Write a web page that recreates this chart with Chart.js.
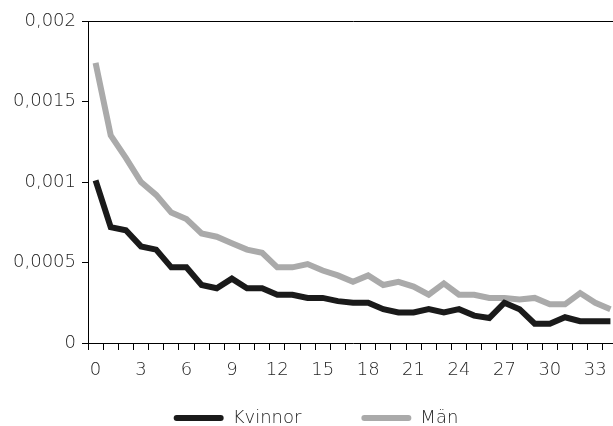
<!DOCTYPE html>
<html>
<head>
<meta charset="utf-8">
<script src="https://cdn.jsdelivr.net/npm/chart.js@4"></script>
<style>
  html, body { margin: 0; padding: 0; background: #fff; overflow: hidden; }
  #wrap { width: 613px; height: 426px; overflow: hidden; position: relative; }
  #box { width: 640px; height: 476px; position: absolute; left: 0; top: 0; }
</style>
</head>
<body>
<div id="wrap"><div id="box"><canvas id="c"></canvas></div></div>
<script>
const categories = ['0','1','2','3','4','5','6','7','8','9','10','11','12','13','14','15','16','17','18','19','20','21','22','23','24','25','26','27','28','29','30','31','32','33','34'];
const kvinnor = [0.00101,0.00072,0.00070,0.00060,0.00058,0.00047,0.00047,0.00036,0.00034,0.00040,0.00034,0.00034,0.00030,0.00030,0.00028,0.00028,0.00026,0.00025,0.00025,0.00021,0.00019,0.00019,0.00021,0.00019,0.00021,0.00017,0.000155,0.00025,0.00021,0.00012,0.00012,0.00016,0.000135,0.000135,0.000135];
const man = [0.00174,0.00129,0.00115,0.00100,0.00092,0.00081,0.00077,0.00068,0.00066,0.00062,0.00058,0.00056,0.00047,0.00047,0.00049,0.00045,0.00042,0.00038,0.00042,0.00036,0.00038,0.00035,0.00030,0.00037,0.00030,0.00030,0.00028,0.00028,0.00027,0.00028,0.00024,0.00024,0.00031,0.00025,0.00021];
const yTicks = [0, 0.0005, 0.001, 0.0015, 0.002];
const seriesNames = ['Kvinnor', 'Män'];

const FONT = { family: 'DejaVu Sans', size: 18, weight: '300' };
const TXT = '#1e1e1e';
const LEGEND_TOP = 349;

const legendShift = {
  id: 'legendShift',
  afterLayout(chart) {
    const lg = chart.legend;
    if (lg) { const h = lg.height; lg.top = LEGEND_TOP; lg.bottom = LEGEND_TOP + h; }
  }
};

new Chart(document.getElementById('c'), {
  type: 'line',
  plugins: [legendShift],
  data: {
    labels: categories,
    datasets: [
      { label: seriesNames[0], data: kvinnor, borderColor: '#1a1a1a', backgroundColor: '#1a1a1a',
        borderWidth: 6, pointRadius: 0, tension: 0, borderJoinStyle: 'miter', order: 0 },
      { label: seriesNames[1], data: man, borderColor: '#aaaaaa', backgroundColor: '#aaaaaa',
        borderWidth: 6, pointRadius: 0, tension: 0, borderJoinStyle: 'miter', order: 1 }
    ]
  },
  options: {
    responsive: true,
    maintainAspectRatio: false,
    animation: false,
    devicePixelRatio: 1,
    layout: { padding: { left: 14, right: 22, top: 21, bottom: 0 } },
    plugins: {
      tooltip: { enabled: false },
      legend: {
        position: 'bottom',
        labels: {
          font: FONT, color: TXT, boxWidth: 50, boxHeight: 6, padding: 60,
          useBorderRadius: true, borderRadius: 3,
          generateLabels: chart => Chart.defaults.plugins.legend.labels.generateLabels(chart)
            .map(l => Object.assign(l, { lineWidth: 0 }))
        }
      }
    },
    scales: {
      x: {
        type: 'category',
        offset: true,
        afterFit: s => { s.height = 45; },
        grid: { offset: true, drawOnChartArea: false, drawTicks: true, tickLength: 7, color: '#000', tickColor: '#000', lineWidth: 1 },
        border: { display: true, color: '#000', width: 1 },
        ticks: {
          autoSkip: false, maxRotation: 0, minRotation: 0, padding: 10,
          font: FONT, color: TXT,
          callback: function(v, i) { return i % 3 === 0 ? categories[i] : ''; }
        }
      },
      y: {
        min: 0, max: 0.002,
        afterFit: s => { s.width = 74; },
        afterBuildTicks: s => { s.ticks = yTicks.map(v => ({ value: v })); },
        grid: {
          drawTicks: true, tickLength: 6, tickColor: '#000', lineWidth: 1,
          color: c => (c.tick && c.tick.value === 0.002) ? '#000' : 'rgba(0,0,0,0)'
        },
        border: { display: true, color: '#000', width: 1 },
        ticks: {
          padding: 6, font: FONT, color: TXT,
          callback: v => String(v).replace('.', ',')
        }
      }
    }
  }
});
</script>
</body>
</html>
